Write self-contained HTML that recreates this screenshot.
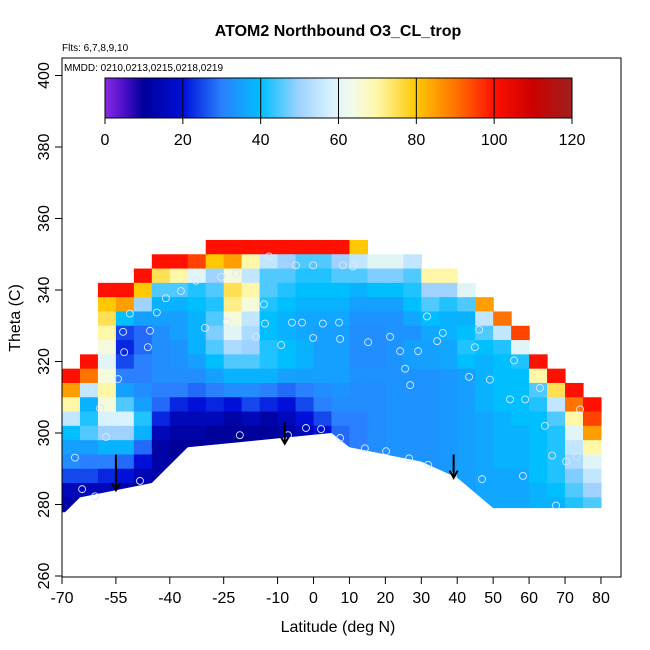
<!DOCTYPE html>
<html><head><meta charset="utf-8"><style>
html,body{margin:0;padding:0;background:#fff}
svg{display:block;font-family:"Liberation Sans",sans-serif}
</style></head><body>
<svg id="chart" width="650" height="650">
<text x="338" y="36" text-anchor="middle" font-size="16" font-weight="bold">ATOM2 Northbound O3_CL_trop</text>
<text x="62" y="51" font-size="10">Flts: 6,7,8,9,10</text>
<g id="heat"></g>
<g id="cbar"></g>
<g id="axes"></g>
<text x="64" y="71" font-size="10">MMDD: 0210,0213,0215,0218,0219</text>
<text x="338" y="632" text-anchor="middle" font-size="16">Latitude (deg N)</text>
<text transform="translate(20,318) rotate(-90)" text-anchor="middle" font-size="16">Theta (C)</text>
</svg>
<script>
const colLats=[-70,-65,-60,-55,-50,-45,-40,-35,-30,-25,-20,-15,-10,-5,0,5,10,15,20,25,30,35,40,45,50,55,60,65,70,75];
const rowThetas=[350,346,342,338,334,330,326,322,318,314,310,306,302,298,294,290,286,282,278];
const N=-1;
const cols=[
[N,N,N,N,N,N,N,N,N,100,85,70,55,40,35,32,25,15,12],
[N,N,N,N,N,N,N,N,100,90,55,38,42,45,35,30,25,15,12],
[N,N,N,100,80,75,70,65,60,65,70,65,58,50,38,30,22,15,12],
[N,N,N,100,85,40,25,22,25,30,35,45,58,50,38,28,20,12,10],
[N,N,100,80,50,35,28,28,30,30,32,35,42,38,28,20,14,10,10],
[N,100,75,45,38,35,32,32,32,32,30,28,22,15,12,12,12,10,10],
[N,100,70,45,38,35,35,33,33,32,30,22,15,12,10,10,10,10,10],
[N,95,60,42,40,38,38,38,35,32,28,20,15,12,10,10,10,10,10],
[100,80,50,45,42,45,48,45,40,35,30,22,15,10,10,10,10,10,10],
[100,85,65,75,72,65,60,52,45,38,32,20,12,10,10,10,10,10,10],
[100,70,55,70,65,55,52,50,45,38,32,25,15,10,10,10,10,10,10],
[100,55,45,45,42,40,40,42,42,38,30,22,12,10,10,10,10,10,10],
[100,50,45,42,40,38,38,40,40,35,28,20,15,12,12,12,12,12,12],
[100,45,42,40,38,36,36,38,38,35,30,25,20,15,15,15,15,15,15],
[100,45,42,40,38,36,35,35,35,35,32,30,25,20,20,20,20,20,20],
[100,50,45,40,38,36,35,35,35,35,33,32,30,28,28,28,28,28,28],
[80,55,45,38,35,33,32,32,32,33,32,32,30,30,30,30,30,30,30],
[N,60,48,40,35,33,32,32,32,33,32,32,32,32,32,32,32,32,32],
[N,60,48,40,35,33,33,33,33,33,33,33,33,33,33,33,33,33,33],
[N,55,45,42,40,36,33,35,35,33,33,33,33,33,33,33,33,33,33],
[N,N,70,50,45,40,36,35,35,33,33,33,33,33,33,33,33,33,33],
[N,N,70,50,42,38,38,36,36,34,34,34,34,34,34,34,34,34,34],
[N,N,N,60,45,38,40,42,40,35,35,35,35,35,35,35,35,35,35],
[N,N,N,N,85,55,45,40,38,38,38,38,36,36,36,36,36,36,36],
[N,N,N,N,N,90,55,42,40,40,40,40,38,38,38,38,36,36,36],
[N,N,N,N,N,N,95,60,42,40,40,40,40,38,38,38,36,36,36],
[N,N,N,N,N,N,N,N,100,70,45,42,40,40,40,40,40,38,38],
[N,N,N,N,N,N,N,N,N,100,75,55,45,42,42,42,42,40,38],
[N,N,N,N,N,N,N,N,N,N,100,90,70,60,55,52,48,45,42],
[N,N,N,N,N,N,N,N,N,N,N,100,95,85,70,60,55,50,45]
];
const boundLat=[-70,-68,-65,-55,-45,-35,-20,0,5,10,20,30,40,50,82];
const boundTheta=[277,279,282,284,286,296,297.5,299.5,300,296,294,292,287.5,279,279];
const ptLat=[-12.4,-21.6,-32.7,-36.9,-41.1,-43.6,-45.5,-51.1,-53,-52.7,-54.4,-46.1,-25.7,-30.2,-24.1,-13.8,-4.9,-0.1,8.2,11,-3.2,2.6,7.1,7.4,-0.1,-6,-13.5,-16,-9,21.3,15.2,24.1,29.1,31.6,36,34.4,44.9,43.3,25.5,26.9,46.1,49.1,54.7,58.9,55.8,63,64.4,74.2,-62.5,-59.4,-57.8,-66.4,-64.4,-60.8,-48.3,-20.5,-7.1,-2.1,2.1,7.4,14.3,20.2,26.6,31.9,38.8,46.9,58.3,67.5,73.3,66.4,70.3];
const ptTheta=[349.4,344.6,342.6,339.7,337.7,333.7,328.6,333.4,328.3,322.6,315.1,324,343.7,329.4,331.1,336,346.9,346.9,346.9,346.6,330.9,330.6,330.9,326.3,326.6,330.9,330.6,326.9,324.6,326.9,325.4,322.9,322.9,332.6,328,325.7,324,315.7,318,313.4,328.9,314.9,309.4,309.4,320.3,312.6,302,306.6,312,306.9,298.9,293.1,284.3,282.3,286.6,299.4,299.4,301.4,301.1,298.6,295.7,294.9,292.9,291.1,287.9,287.1,288,279.7,293.4,293.7,292];
const arrowLat=[-55,-8,39];
const arrowTop=[294,303,294];
const arrowBot=[284,297,287.5];
const yTicks=[260,280,300,320,340,360,380,400];
const xTicks=[-70,-55,-40,-25,-10,0,10,20,30,40,50,60,70,80];
const cbTicks=[0,20,40,60,80,100,120];
const cmapV=[0,5,10,20,30,40,50,58,64,70,80,90,100,110,120];
const cmapC=['#8a2be2','#4a0fc8','#00009a','#0010d8','#2a80ff','#00bfff','#9fd2ff','#d8f2ff','#f4fbe8','#fff7a8','#ffc800','#ff7400','#ff1000','#cc0000','#a02020'];

const NS='http://www.w3.org/2000/svg';
const X=l=>62+(l+70)*3.593;
const Y=t=>576-(t-260)*3.575;
const CX=v=>105+v*(467/120);
function hex(h){return [1,3,5].map(i=>parseInt(h.substr(i,2),16));}
function color(v){
  if(v<=cmapV[0])return cmapC[0];
  for(let i=1;i<cmapV.length;i++){if(v<=cmapV[i]){const f=(v-cmapV[i-1])/(cmapV[i]-cmapV[i-1]);const a=hex(cmapC[i-1]),b=hex(cmapC[i]);return 'rgb('+a.map((x,k)=>Math.round(x+(b[k]-x)*f)).join(',')+')';}}
  return cmapC[cmapC.length-1];
}
function mk(tag,attrs,parent){const e=document.createElementNS(NS,tag);for(const k in attrs)e.setAttribute(k,attrs[k]);parent.appendChild(e);return e;}
const heat=document.getElementById('heat');
cols.forEach((col,ci)=>{col.forEach((v,ri)=>{if(v<0)return;
  const x0=X(colLats[ci]),x1=X(Math.min(colLats[ci]+5,81)),y1=Y(rowThetas[ri]),y0=Y(rowThetas[ri]+4);
  const r=mk('rect',{x:x0,y:y0,width:x1-x0+0.6,height:y1-y0+0.6,fill:color(v)},heat);
  
  
});});
let pts=boundLat.map((l,i)=>X(l)+','+Y(boundTheta[i])).join(' ');
pts+=' '+X(82)+','+Y(270)+' '+X(-70)+','+Y(270);
const wp=mk('polygon',{points:pts,fill:'#fff'},heat);


ptLat.forEach((l,i)=>{const c=mk('circle',{cx:X(l),cy:Y(ptTheta[i]),r:3.5,fill:'none',stroke:'#d8e8ff','stroke-width':0.9},heat);
  
  });
arrowLat.forEach((l,i)=>{const g=mk('g',{stroke:'#000','stroke-width':2,fill:'none'},heat);
  
  
  const x=X(l),yt=Y(arrowTop[i]),yb=Y(arrowBot[i]);
  mk('line',{x1:x,y1:yt,x2:x,y2:yb},g);
  mk('polyline',{points:(x-4)+','+(yb-7)+' '+x+','+yb+' '+(x+4)+','+(yb-7)},g);});
const cb=document.getElementById('cbar');
for(let v=0;v<120;v+=0.5){mk('rect',{x:CX(v),y:78,width:467/240+0.5,height:40,fill:color(v+0.25)},cb);}
mk('rect',{x:105,y:78,width:467,height:40,fill:'none',stroke:'#000'},cb);
cbTicks.forEach(t=>{mk('line',{x1:CX(t),y1:78,x2:CX(t),y2:124,stroke:'#000'},cb);
  const tx=mk('text',{x:CX(t),y:145,'text-anchor':'middle','font-size':16},cb);tx.textContent=t;
  
  });
const ax=document.getElementById('axes');
mk('rect',{x:62,y:58,width:559,height:519,fill:'none',stroke:'#000'},ax);
yTicks.forEach(t=>{mk('line',{x1:55,y1:Y(t),x2:62,y2:Y(t),stroke:'#000'},ax);
  const tx=mk('text',{transform:'translate(49,'+Y(t)+') rotate(-90)','text-anchor':'middle','font-size':16},ax);tx.textContent=t;
  
  });
xTicks.forEach(t=>{mk('line',{x1:X(t),y1:577,x2:X(t),y2:584,stroke:'#000'},ax);
  const tx=mk('text',{x:X(t),y:603,'text-anchor':'middle','font-size':16},ax);tx.textContent=t;
  
  });
</script>
</body></html>
